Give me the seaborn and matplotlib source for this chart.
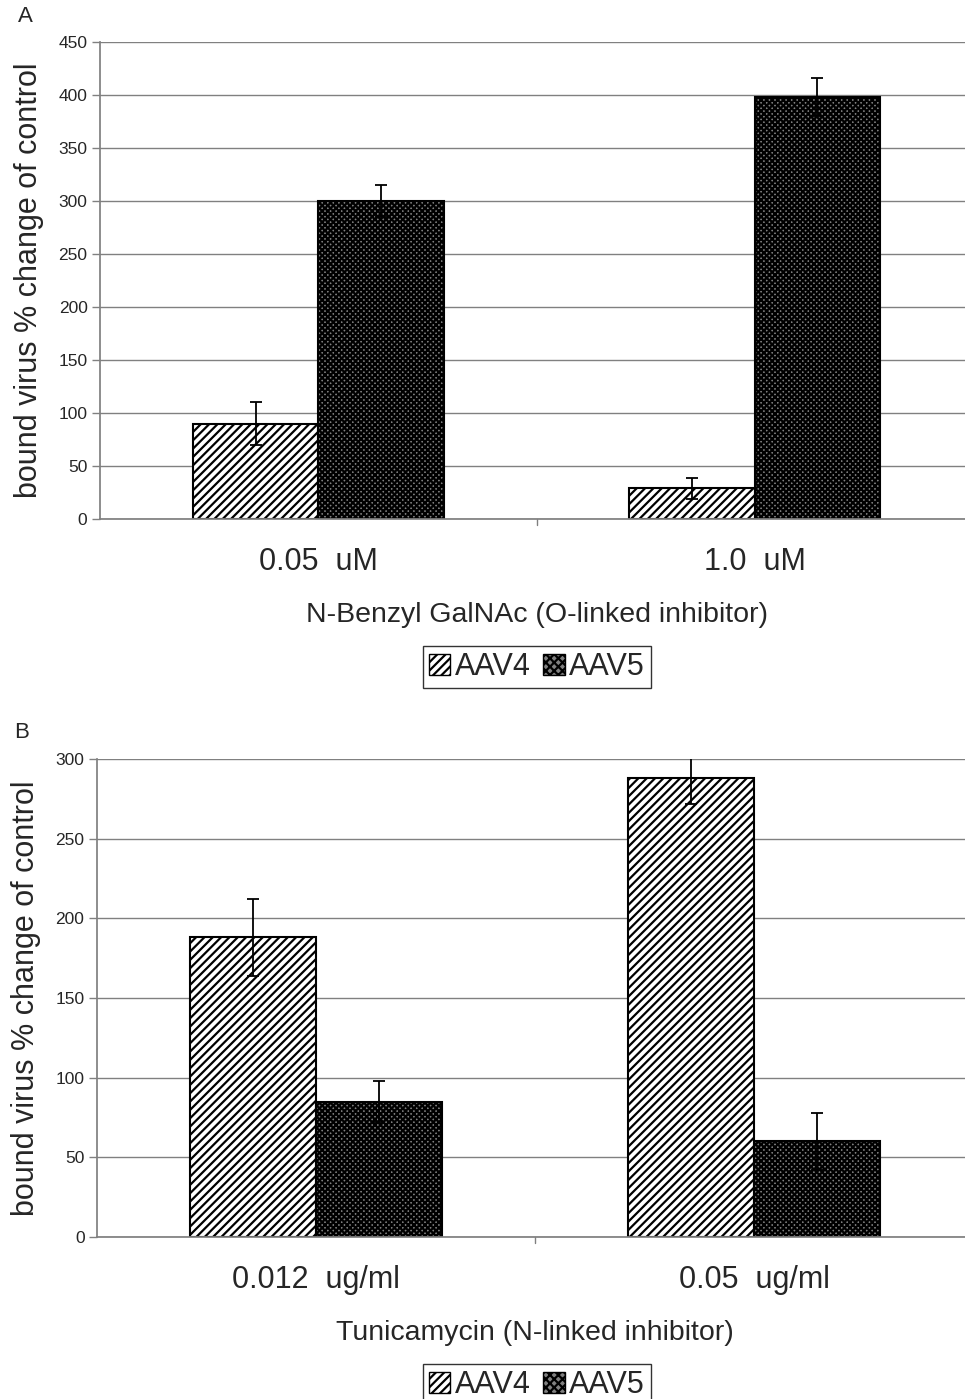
import pandas as pd
import matplotlib
matplotlib.use("Agg")
import matplotlib.pyplot as plt
import seaborn as sns
from matplotlib.patches import Patch

# data
viruses = ["AAV4", "AAV5"]

conc_a = ["0.05  uM", "1.0  uM"]
aav4_a = [90, 29]
aav4_a_err = [20, 10]
aav5_a = [300, 398]
aav5_a_err = [15, 18]

conc_b = ["0.012  ug/ml", "0.05  ug/ml"]
aav4_b = [188, 288]
aav4_b_err = [24, 16]
aav5_b = [85, 60]
aav5_b_err = [13, 18]

sns.set_theme(style="white")
plt.rcParams["font.family"] = ["Liberation Sans", "DejaVu Sans"]
plt.rcParams["hatch.linewidth"] = 1.6

fig = plt.figure(figsize=(9.65, 13.99), dpi=100)
W, H = 965, 1399


def panel(box, conc, v4, e4, v5, e5, ymax, step, xlabel, letter, letter_xy, leg_y):
    left, top, bottom = box
    ax = fig.add_axes([left / W, 1 - bottom / H, (W - left + 8) / W, (bottom - top) / H])
    df = pd.DataFrame({
        "conc": conc + conc,
        "val": v4 + v5,
        "err": e4 + e5,
        "virus": [viruses[0]] * len(conc) + [viruses[1]] * len(conc),
    })
    sns.barplot(data=df, x="conc", y="val", hue="virus", errorbar=None,
                width=0.575, ax=ax, legend=False)
    hatches = ["////", "xxxxxx"]
    faces = ["white", "#808080"]
    bar_groups = list(ax.containers)
    for i, cont in enumerate(bar_groups):
        errs = df[df["virus"] == viruses[i]]["err"].values
        for bar, e in zip(cont, errs):
            bar.set_facecolor(faces[i])
            bar.set_edgecolor("black")
            bar.set_hatch(hatches[i])
            bar.set_linewidth(1.5)
            x = bar.get_x() + bar.get_width() / 2
            ax.errorbar(x, bar.get_height(), yerr=e, color="black",
                        capsize=4.5, elinewidth=1.3, capthick=1.3, zorder=5)
    ax.set_ylim(0, ymax)
    ax.set_xlim(-0.5, 1.5)
    ax.set_yticks(range(0, ymax + 1, step))
    ax.yaxis.grid(True, color="#808080", linewidth=1)
    ax.set_axisbelow(True)
    for s in ["top", "right"]:
        ax.spines[s].set_visible(False)
    ax.spines["left"].set_color("#808080")
    ax.spines["bottom"].set_color("#808080")
    ax.tick_params(axis="y", length=6, width=1, color="#808080", labelsize=12.5, direction="out", left=True, pad=3)
    ax.tick_params(axis="x", length=0, labelsize=22, pad=20)
    # category boundary tick
    ax.plot([0.5, 0.5], [0, -ymax * 0.012], color="#808080", lw=1, clip_on=False)
    ax.set_xlabel(xlabel, fontsize=20.5, labelpad=18)
    ax.set_ylabel("bound virus % change of control", fontsize=22, labelpad=10)
    fig.text(letter_xy[0] / W, 1 - letter_xy[1] / H, letter, fontsize=16, ha="left", va="center")
    handles = [Patch(facecolor=faces[i], edgecolor="black", hatch=hatches[i][:4], label=viruses[i])
               for i in range(2)]
    fig.legend(handles=handles, loc="center", bbox_to_anchor=(537 / W, 1 - leg_y / H), ncol=2,
               fontsize=22, frameon=True, fancybox=False, edgecolor="black",
               handlelength=0.7, handleheight=0.7, handletextpad=0.15, columnspacing=0.4,
               borderpad=0.2, borderaxespad=0)
    return ax


panel((100, 42, 519), conc_a, aav4_a, aav4_a_err, aav5_a, aav5_a_err, 450, 50,
      "N-Benzyl GalNAc (O-linked inhibitor)", "A", (18, 16), 667)
panel((97, 759, 1237), conc_b, aav4_b, aav4_b_err, aav5_b, aav5_b_err, 300, 50,
      "Tunicamycin (N-linked inhibitor)", "B", (14, 733), 1385)

fig.savefig("out.png", dpi=100)
